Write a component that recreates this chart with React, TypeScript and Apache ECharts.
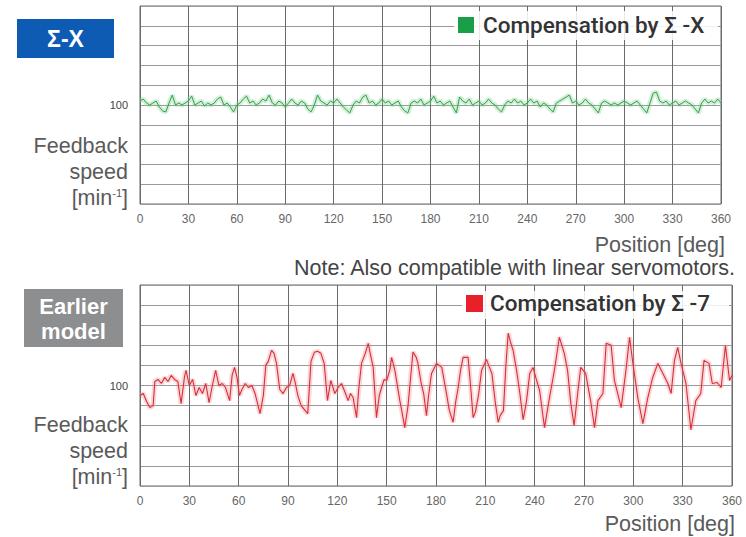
import React, { useEffect, useRef } from "react";
import * as echarts from "echarts";

const xTicks = [0, 30, 60, 90, 120, 150, 180, 210, 240, 270, 300, 330, 360];
const yLabelValue = 100;

// Σ-X: feedback speed sampled every 2 deg
const greenStep = 2;
const greenVal = [
  102, 103, 101, 100, 101, 102, 99, 97, 96.5, 101, 105, 100, 101, 100, 101, 102,
  104.5, 100, 101, 102, 99.5, 101, 100, 101, 103, 104, 100, 101, 99, 96.5, 100, 101,
  103, 104.5, 101, 102, 100, 101, 103, 102, 105, 101, 100, 102, 101, 99, 101, 103,
  101, 100, 102, 101, 98, 96.5, 100, 105, 102, 101, 100, 102, 101, 103, 101, 99,
  97.5, 96, 100, 102, 101, 104, 105, 101, 102, 100, 101, 103, 101, 102, 100, 101,
  102, 99, 97, 96, 101, 102, 101, 103, 100, 101, 102, 104.5, 101, 102, 100, 101,
  102, 99, 96, 104, 102, 101, 103, 100, 101, 102, 100, 101, 103, 101, 100, 98,
  96.5, 100, 102, 101, 103, 101, 102, 100, 101, 103, 101, 102, 99, 101, 100, 98,
  96.5, 101, 102, 103, 104, 105, 101, 102, 100, 101, 103, 101, 100, 98, 96, 101,
  102, 101, 100, 101, 100, 101, 102, 101, 100, 101, 102, 100, 98, 96, 101, 106,
  106.5, 102, 101, 102, 100, 101, 102, 100, 101, 102, 101, 100, 98, 96, 101, 103,
  101, 102, 101, 103, 101,
];

// Earlier model (Σ-7): position [deg] and feedback speed
const redDeg = [
  0, 2, 4, 6, 8, 9, 11, 13, 15, 17, 19, 21, 23, 25, 27, 28, 30, 32, 34, 36, 38, 40, 42, 44, 46, 48, 50, 52,
  54.5, 56, 57.5, 59, 60.5, 62, 64, 66, 68, 70, 73, 75, 76.5, 78, 80, 81.5, 83, 85, 87, 89, 91, 93, 94.5,
  96, 98, 100, 102, 104, 106, 108, 110, 112, 114, 116, 118.5, 120.5, 122.5, 124.5, 126.6, 128, 129.6,
  131.7, 133, 134.7, 137, 138.8, 140, 141.8, 143.8, 145.5, 146.9, 148.5, 150, 152, 153, 155, 158, 159.5,
  161, 163, 164, 166, 168, 169, 171, 172.5, 174.2, 175.5, 177.3, 180.3, 182, 183.5, 186.4, 188, 190.4,
  192, 193.5, 195, 196.5, 199.5, 201, 202.6, 204, 206, 207.7, 210.7, 212, 214, 216, 217.8, 219, 221,
  222.5, 223.9, 225.5, 226.9, 229, 231, 233, 235, 237, 239, 241, 243, 246, 249, 252, 255, 258, 260, 262,
  264, 266, 268, 271, 274, 276.4, 278.5, 281.5, 283.5, 286.5, 288.5, 290.5, 292.6, 295.5, 297.7, 299.5,
  302.7, 305.8, 308.8, 311.8, 314.9, 318, 321, 323, 325, 327, 329, 332, 335, 338, 341, 343, 346, 348, 351,
  353.4, 356, 358.5, 360,
];
const redVal = [
  95, 96, 92, 89, 90, 102, 103, 101, 104, 102, 105, 103, 102, 91, 104, 107.5, 100, 103, 95, 99, 96, 101, 91.5,
  100, 107.5, 100, 101, 99, 92.5, 105, 109, 104, 95, 98, 101, 99, 100, 96, 86, 95, 110, 112, 117.5, 116, 111,
  98, 96, 99, 100, 106, 101, 95, 90, 88, 86, 112, 116.5, 117, 116, 111, 92.5, 102.5, 96, 99, 101, 97, 92.5,
  96, 94, 84, 98, 111, 116, 121, 116, 109, 84, 95, 99, 103, 102.5, 108, 114, 107.5, 92.5, 86, 79, 90, 99,
  116.7, 114, 111, 101, 96, 85, 95, 106, 111, 110, 109, 96, 88, 81.7, 92, 99, 108, 114, 114, 100, 84, 87,
  96, 107.5, 113, 110, 106, 92, 81.7, 85, 87.5, 110, 126, 121, 117.5, 107.5, 96, 83, 92, 106, 109, 103,
  97.5, 79, 94, 107.5, 124, 116, 107.5, 91, 80, 95, 109, 106, 92.5, 79, 92.5, 96, 121, 120, 102.5, 96, 89,
  107.5, 124, 112.5, 94, 81, 94, 104, 111, 106, 101, 96, 112.5, 119, 111, 101, 78, 92.5, 96, 112.5, 111,
  101, 101.5, 99, 120, 102.5, 105,
];

const FONT = "Liberation Sans, Arial, Helvetica, sans-serif";
const LEGEND_FONT = "Roboto, Liberation Sans, Arial, sans-serif";

export default function App() {
  const ref = useRef<HTMLDivElement>(null);

  useEffect(() => {
    document.body.style.margin = "0";
    const chart = echarts.init(ref.current!, undefined, { renderer: "svg" });

    const greenData = greenVal.map((v, i) => [i * greenStep, v]);
    const redData = redDeg.map((d, i) => [d, redVal[i]]);

    const makeX = (gridIndex: number) => ({
      type: "value",
      gridIndex,
      min: 0,
      max: 360,
      interval: 30,
      axisLine: { show: false },
      axisTick: { show: false },
      axisLabel: {
        color: "#666",
        fontSize: 12,
        fontFamily: FONT,
        margin: 9,
        formatter: (v: number) => (xTicks.includes(v) ? String(v) : ""),
      },
      splitLine: { show: true, lineStyle: { color: "#6a6a6a", width: 1 } },
    });
    const makeY = (gridIndex: number) => ({
      type: "value",
      gridIndex,
      min: 50,
      max: 150,
      interval: 10,
      axisLine: { show: false },
      axisTick: { show: false },
      axisLabel: {
        color: "#444",
        fontSize: 11,
        fontFamily: FONT,
        margin: 12,
        formatter: (v: number) => (v === yLabelValue ? String(v) : ""),
      },
      splitLine: { show: true, lineStyle: { color: "#9a9a9a", width: 1.2 } },
    });

    const text = (
      x: number,
      y: number,
      t: string,
      size: number,
      color: string,
      align: string,
      weight: any = "normal",
      family: string = FONT
    ) => ({
      type: "text",
      x,
      y,
      z: 100,
      style: {
        text: t,
        fill: color,
        fontSize: size,
        fontFamily: family,
        fontWeight: weight,
        align,
        verticalAlign: "middle",
      },
    });

    const yNameBlock = (y0: number) => [
      text(128, y0, "Feedback", 21.5, "#5a5a5a", "right"),
      text(128, y0 + 26, "speed", 21.5, "#5a5a5a", "right"),
      {
        type: "text",
        x: 128,
        y: y0 + 52,
        z: 100,
        style: {
          text: "{a|[min}{s|-1}{a|]}",
          fill: "#5a5a5a",
          fontFamily: FONT,
          align: "right",
          verticalAlign: "middle",
          rich: {
            a: { fontSize: 21.5, fill: "#5a5a5a", fontFamily: FONT, lineHeight: 22 },
            s: {
              fontSize: 11,
              fill: "#5a5a5a",
              fontFamily: FONT,
              lineHeight: 22,
              verticalAlign: "top",
              padding: [0, 0, 10, 0],
            },
          },
        },
      },
    ];

    chart.setOption({
      animation: false,
      grid: [
        { left: 140, top: 6, width: 581, height: 198, show: true, borderColor: "#6a6a6a", borderWidth: 1, backgroundColor: "#fff" },
        { left: 140, top: 285, width: 592, height: 201, show: true, borderColor: "#6a6a6a", borderWidth: 1, backgroundColor: "#fff" },
      ],
      xAxis: [makeX(0), makeX(1)],
      yAxis: [makeY(0), makeY(1)],
      series: [
        {
          type: "line",
          xAxisIndex: 0,
          yAxisIndex: 0,
          data: greenData,
          symbol: "none",
          silent: true,
          lineStyle: { color: "rgba(120,215,140,0.35)", width: 5 },
        },
        {
          type: "line",
          xAxisIndex: 0,
          yAxisIndex: 0,
          data: greenData,
          symbol: "none",
          lineStyle: { color: "#3c9a4c", width: 1 },
        },
        {
          type: "line",
          xAxisIndex: 1,
          yAxisIndex: 1,
          data: redData,
          symbol: "none",
          silent: true,
          lineStyle: { color: "rgba(245,140,150,0.35)", width: 5 },
        },
        {
          type: "line",
          xAxisIndex: 1,
          yAxisIndex: 1,
          data: redData,
          symbol: "none",
          lineStyle: { color: "#d4303a", width: 1.1 },
        },
      ],
      graphic: [
        // Σ-X badge
        { type: "rect", shape: { x: 17, y: 19, width: 97, height: 39 }, style: { fill: "#0e5bb4" }, z: 90 },
        text(65.5, 39, "Σ-X", 23, "#ffffff", "center", "bold"),
        // Earlier model badge
        { type: "rect", shape: { x: 24, y: 289, width: 99, height: 58 }, style: { fill: "#8c8e90" }, z: 90 },
        text(73.5, 306, "Earlier", 22, "#ffffff", "center", "bold"),
        text(73.5, 331, "model", 22, "#ffffff", "center", "bold"),
        // legends
        { type: "rect", shape: { x: 454, y: 11, width: 264, height: 29 }, style: { fill: "rgba(255,255,255,0.85)" }, z: 90 },
        { type: "rect", shape: { x: 458, y: 17, width: 16, height: 16 }, style: { fill: "#1a9e48" }, z: 95 },
        text(483, 25, "Compensation by Σ -X", 22.5, "#333333", "left", 500, LEGEND_FONT),
        { type: "rect", shape: { x: 462, y: 291, width: 267, height: 28 }, style: { fill: "rgba(255,255,255,0.85)" }, z: 90 },
        { type: "rect", shape: { x: 466, y: 295, width: 17, height: 17 }, style: { fill: "#e8202a" }, z: 95 },
        text(490, 303, "Compensation by Σ -7", 22.5, "#333333", "left", 500, LEGEND_FONT),
        // axis names
        ...yNameBlock(146),
        ...yNameBlock(425),
        text(725, 245, "Position [deg]", 21.5, "#5a5a5a", "right"),
        text(735, 524, "Position [deg]", 21.5, "#5a5a5a", "right"),
        text(735, 268, "Note: Also compatible with linear servomotors.", 21.5, "#444444", "right"),
      ],
    });

    return () => chart.dispose();
  }, []);

  return <div ref={ref} style={{ width: 746, height: 537 }} />;
}
